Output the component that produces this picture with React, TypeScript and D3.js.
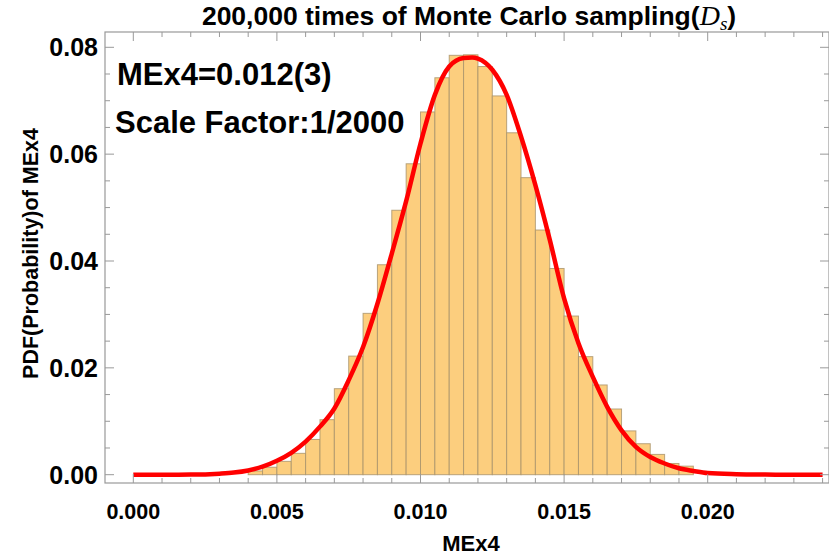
import React from "react";
import * as d3 from "d3";

// Histogram bins (left edge, width 0.0005) and their probabilities
const binStarts = [
  0.004, 0.0045, 0.005, 0.0055, 0.006, 0.0065, 0.007, 0.0075, 0.008, 0.0085,
  0.009, 0.0095, 0.01, 0.0105, 0.011, 0.0115, 0.012, 0.0125, 0.013, 0.0135,
  0.014, 0.0145, 0.015, 0.0155, 0.016, 0.0165, 0.017, 0.0175, 0.018, 0.0185,
  0.019,
];
const binValues = [
  0.0007, 0.0014, 0.0025, 0.004, 0.0066, 0.0103, 0.0161, 0.0222, 0.0302, 0.0393,
  0.0495, 0.0582, 0.0679, 0.0743, 0.0785, 0.0786, 0.0764, 0.0709, 0.064, 0.0556,
  0.0458, 0.0386, 0.0297, 0.0221, 0.0168, 0.0123, 0.0082, 0.0058, 0.0038, 0.0021,
  0.0016,
];
const binWidth = 0.0005;

// Fitted PDF curve samples
const curveX = [
  0, 0.001, 0.002, 0.003, 0.0035, 0.004, 0.0045, 0.005, 0.0055, 0.006, 0.0065,
  0.007, 0.0075, 0.008, 0.0085, 0.009, 0.0095, 0.01, 0.0105, 0.011, 0.0115,
  0.0118, 0.012, 0.0125, 0.013, 0.0135, 0.014, 0.0145, 0.015, 0.0155, 0.016,
  0.0165, 0.017, 0.0175, 0.018, 0.0185, 0.019, 0.0195, 0.02, 0.021, 0.022,
  0.023, 0.024,
];
const curveY = [
  0, 0, 0.00002, 0.0002, 0.0004, 0.0008, 0.0015, 0.0026, 0.0041, 0.0062, 0.009,
  0.0124, 0.0177, 0.0239, 0.032, 0.0414, 0.0512, 0.062, 0.0711, 0.0764, 0.078,
  0.0781, 0.0779, 0.0758, 0.0711, 0.0633, 0.0542, 0.044, 0.033, 0.0246, 0.0183,
  0.0127, 0.0083, 0.0052, 0.0033, 0.0021, 0.0012, 0.0007, 0.0003, 0.0001,
  0.00003, 0, 0,
];

const xTicks = [0, 0.005, 0.01, 0.015, 0.02];
const xTickLabels = ["0.000", "0.005", "0.010", "0.015", "0.020"];
const yTicks = [0, 0.02, 0.04, 0.06, 0.08];
const yTickLabels = ["0.00", "0.02", "0.04", "0.06", "0.08"];

const titleMain = "200,000 times of Monte Carlo sampling(";
const xLabel = "MEx4";
const yLabel = "PDF(Probability)of MEx4";
const note1 = "MEx4=0.012(3)";
const note2 = "Scale Factor:1/2000";

const W = 829;
const H = 560;
const frame = { left: 105, right: 829, top: 32, bottom: 483 };

const SANS = "'Liberation Sans', Arial, Helvetica, sans-serif";
const SERIF = "'Liberation Serif', 'Times New Roman', serif";

export default function App() {
  const x = d3.scaleLinear().domain([0, 0.02]).range([133.3, 707.7]);
  const y = d3.scaleLinear().domain([0, 0.08]).range([474.7, 47.3]);

  const line = d3
    .line<number>()
    .x((_, i) => x(curveX[i]))
    .y((d) => y(d))
    .curve(d3.curveMonotoneX);

  const xMinor = d3.range(0, 25).map((i) => i * 0.001);
  const yMinor = d3.range(0, 17).map((i) => i * 0.005);
  const frameColor = "#999999";

  return (
    <svg
      width={W}
      height={H}
      style={{ position: "absolute", left: 0, top: 0, background: "#fff" }}
    >
      {/* histogram */}
      <g>
        {binStarts.map((b, i) => (
          <rect
            key={i}
            x={x(b)}
            y={y(binValues[i])}
            width={x(b + binWidth) - x(b)}
            height={y(0) - y(binValues[i])}
            fill="#FCCE7E"
            stroke="#a8926a"
            strokeOpacity={0.8}
            strokeWidth={1}
          />
        ))}
      </g>

      {/* fitted curve */}
      <path
        d={line(curveY) || ""}
        fill="none"
        stroke="#ff0000"
        strokeWidth={4.5}
        strokeLinejoin="round"
      />

      {/* frame */}
      <rect
        x={frame.left}
        y={frame.top}
        width={frame.right - frame.left}
        height={frame.bottom - frame.top}
        fill="none"
        stroke={frameColor}
        strokeWidth={1.2}
      />

      {/* x ticks, bottom and top */}
      {xMinor.map((v, i) => {
        const major = i % 5 === 0;
        const len = major ? 9 : 5;
        const px = x(v);
        return (
          <g key={"xt" + i} stroke={frameColor} strokeWidth={1}>
            <line x1={px} x2={px} y1={frame.bottom} y2={frame.bottom - len} />
            <line x1={px} x2={px} y1={frame.top} y2={frame.top + len} />
          </g>
        );
      })}
      {/* y ticks, left and right */}
      {yMinor.map((v, i) => {
        const major = i % 4 === 0;
        const len = major ? 9 : 5;
        const py = y(v);
        return (
          <g key={"yt" + i} stroke={frameColor} strokeWidth={1}>
            <line x1={frame.left} x2={frame.left + len} y1={py} y2={py} />
            <line x1={frame.right} x2={frame.right - len} y1={py} y2={py} />
          </g>
        );
      })}

      {/* tick labels */}
      {xTicks.map((v, i) => (
        <text
          key={"xl" + i}
          x={x(v)}
          y={519}
          textAnchor="middle"
          fontFamily={SANS}
          fontWeight="bold"
          fontSize={21.5}
          fill="#000"
        >
          {xTickLabels[i]}
        </text>
      ))}
      {yTicks.map((v, i) => (
        <text
          key={"yl" + i}
          x={98}
          y={y(v)}
          dy="0.36em"
          textAnchor="end"
          fontFamily={SANS}
          fontWeight="bold"
          fontSize={25}
          fill="#000"
        >
          {yTickLabels[i]}
        </text>
      ))}

      {/* axis labels */}
      <text
        x={471}
        y={551}
        textAnchor="middle"
        fontFamily={SANS}
        fontWeight="bold"
        fontSize={22}
      >
        {xLabel}
      </text>
      <text
        transform="translate(38,253.5) rotate(-90)"
        textAnchor="middle"
        fontFamily={SANS}
        fontWeight="bold"
        fontSize={21.5}
      >
        {yLabel}
      </text>

      {/* title */}
      <text
        x={469}
        y={25}
        textAnchor="middle"
        fontFamily={SANS}
        fontWeight="bold"
        fontSize={26.5}
      >
        {titleMain}
        <tspan fontFamily={SERIF} fontStyle="italic" fontWeight="normal" fontSize={28}>
          D
        </tspan>
        <tspan
          fontFamily={SERIF}
          fontStyle="italic"
          fontWeight="normal"
          fontSize={19}
          dy={5}
        >
          s
        </tspan>
        <tspan dy={-5}>)</tspan>
      </text>

      {/* annotations */}
      <text x={117} y={85} fontFamily={SANS} fontWeight="bold" fontSize={31}>
        {note1}
      </text>
      <text x={115} y={133} fontFamily={SANS} fontWeight="bold" fontSize={31}>
        {note2}
      </text>
    </svg>
  );
}
